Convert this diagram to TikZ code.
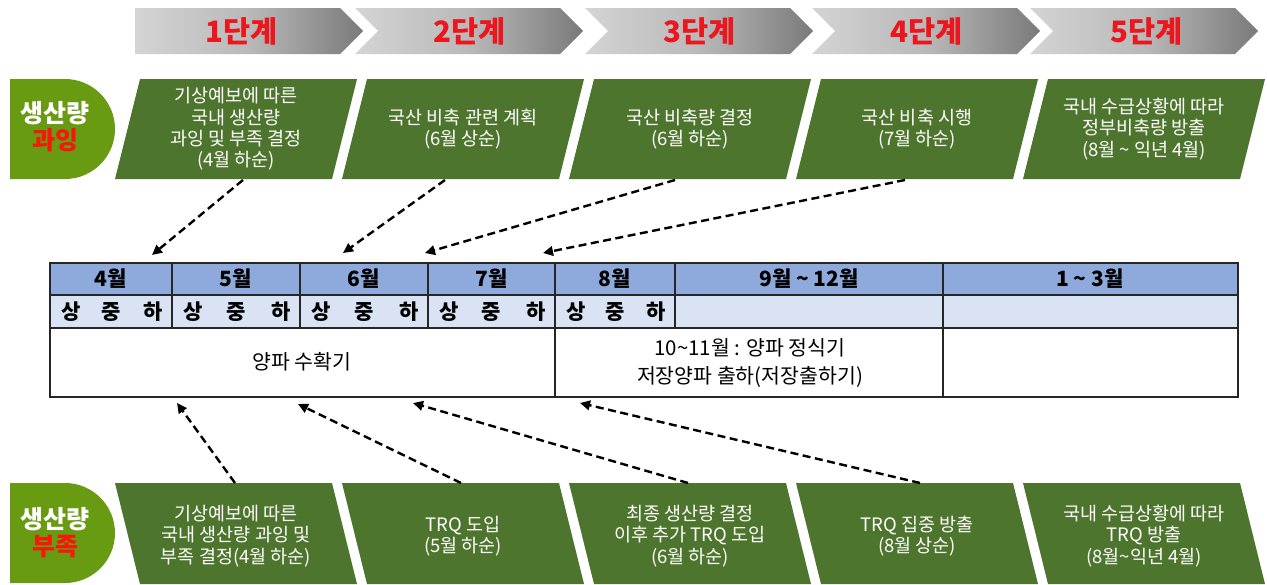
\documentclass[tikz,border=0pt]{standalone}
\usepackage{fontspec}
\setmainfont{Noto Sans CJK KR}
\usetikzlibrary{arrows.meta}
\definecolor{boxgreen}{RGB}{78,117,45}
\definecolor{labgreen}{RGB}{104,154,18}
\definecolor{hdrblue}{RGB}{142,169,219}
\definecolor{subblue}{RGB}{218,227,243}
\definecolor{stepred}{RGB}{235,22,30}
\definecolor{labred}{RGB}{250,20,10}
\definecolor{chevL}{RGB}{212,212,212}
\definecolor{chevM}{RGB}{185,185,185}
\definecolor{chevR}{RGB}{122,122,122}
\begin{document}
\begin{tikzpicture}[x=1pt,y=-1pt,
  boxtext/.style={text=white, align=center, inner sep=0pt, font=\fontsize{18.5}{21.3}\selectfont},
  steptext/.style={text=stepred, inner sep=0pt, font=\bfseries\fontsize{29.5}{32}\selectfont},
  labtext/.style={align=center, inner sep=0pt, font=\bfseries\fontsize{25}{28}\selectfont},
  hdr/.style={inner sep=0pt, font=\bfseries\fontsize{21}{22}\selectfont},
  subtext/.style={inner sep=0pt, font=\bfseries\fontsize{21}{22}\selectfont},
  bodytext/.style={inner sep=0pt, align=center, font=\fontsize{20.5}{28}\selectfont},
  tline/.style={line width=1.2pt, black!85},
  tborder/.style={line width=2pt, black!85},
  dasharrow/.style={line width=2.4pt, dash pattern=on 8pt off 4.5pt, -{Triangle[length=10pt,width=9.5pt]}}
]
\useasboundingbox (0,0) rectangle (1267,584);
\fill[white] (0,0) rectangle (1267,584);

% ---------- chevrons ----------
\shade[left color=chevL, right color=chevR, middle color=chevM]
  (135,8) -- (340,8) -- (363,31) -- (340,54) -- (135,54) -- cycle;
\foreach \x in {355,585,812,1030}{
  \shade[left color=chevL, right color=chevR, middle color=chevM]
    (\x,8) -- (\x+205,8) -- (\x+228,31) -- (\x+205,54) -- (\x,54) -- (\x+23,31) -- cycle;
}
\node[steptext] (s1) at (242,31) {1단계};
\node[steptext] (s2) at (470,31) {2단계};
\node[steptext] (s3) at (700,31) {3단계};
\node[steptext] (s4) at (927,31) {4단계};
\node[steptext] (s5) at (1147,31) {5단계};

% ---------- left labels ----------
\fill[labgreen] (10,79) -- (65,79) arc[start angle=90,end angle=-90,radius=50pt] -- (10,179) -- cycle;
\node[labtext] (labtop) at (55,127) {\textcolor{white}{생산량}\\[-1pt]\textcolor{labred}{과잉}};
\fill[labgreen] (10,483) -- (65,483) arc[start angle=90,end angle=-90,radius=50pt] -- (10,583) -- cycle;
\node[labtext] (labbot) at (55,533) {\textcolor{white}{생산량}\\[-1pt]\textcolor{labred}{부족}};

% ---------- top boxes ----------
\foreach \i in {0,...,4}{
  \fill[boxgreen] (115+227*\i+25,79) -- (115+227*\i+242,79) -- (115+227*\i+217,179) -- (115+227*\i,179) -- cycle;
  \fill[boxgreen] (115+227*\i,483) -- (115+227*\i+217,483) -- (115+227*\i+242,584) -- (115+227*\i+25,584) -- cycle;
}
\node[boxtext] (t1) at (236,129) {기상예보에 따른\\국내 생산량\\과잉 및 부족 결정\\(4월 하순)};
\node[boxtext] (t2) at (463,129) {국산 비축 관련 계획\\(6월 상순)};
\node[boxtext] (t3) at (690,129) {국산 비축량 결정\\(6월 하순)};
\node[boxtext] (t4) at (917,129) {국산 비축 시행\\(7월 하순)};
\node[boxtext] (t5) at (1144,129) {국내 수급상황에 따라\\정부비축량 방출\\(8월 \textasciitilde{} 익년 4월)};

\node[boxtext] (u1) at (236,536) {기상예보에 따른\\국내 생산량 과잉 및\\부족 결정(4월 하순)};
\node[boxtext] (u2) at (463,536) {TRQ 도입\\(5월 하순)};
\node[boxtext] (u3) at (690,536) {최종 생산량 결정\\이후 추가 TRQ 도입\\(6월 하순)};
\node[boxtext] (u4) at (917,536) {TRQ 집중 방출\\(8월 상순)};
\node[boxtext] (u5) at (1144,536) {국내 수급상황에 따라\\TRQ 방출\\(8월\textasciitilde 익년 4월)};

% ---------- table ----------
\fill[hdrblue] (50,263) rectangle (1238,295);
\fill[subblue] (50,295) rectangle (1238,328);
\draw[tline] (50,295) -- (1238,295);
\draw[tline] (50,328) -- (1238,328);
\foreach \x in {172,300,428,675}{ \draw[tline] (\x,263) -- (\x,328); }
\foreach \x in {555,943}{ \draw[tline] (\x,263) -- (\x,397); }
\draw[tborder] (50,263) rectangle (1238,397);

\foreach \L/\R/\m [count=\k] in {50/172/4월,172/300/5월,300/428/6월,428/555/7월,555/675/8월}{
  \node[hdr] (mon\k) at ({(\L+\R)/2},279) {\m};
  \node[subtext] (sang\k) at ({\L+21},312) {상};
  \node[subtext] (jung\k) at ({(\L+\R)/2},312) {중};
  \node[subtext] (ha\k) at ({\R-19},312) {하};
}
\node[hdr] (mon6) at (809,279) {9월 \textasciitilde{} 12월};
\node[hdr] (mon7) at (1090,279) {1 \textasciitilde{} 3월};

\node[bodytext] (harvest) at (302,362) {양파 수확기};
\node[bodytext] (plant) at (750,363) {10\textasciitilde 11월 : 양파 정식기\\저장양파 출하(저장출하기)};

% ---------- arrows ----------
\coordinate (a1s) at (243,180); \coordinate (a1e) at (152,255);
\coordinate (a2s) at (445,180); \coordinate (a2e) at (343,253);
\coordinate (a3s) at (675,180); \coordinate (a3e) at (425,253);
\coordinate (a4s) at (905,180); \coordinate (a4e) at (543,253);
\coordinate (b1s) at (235,483); \coordinate (b1e) at (177,403);
\coordinate (b2s) at (461,483); \coordinate (b2e) at (298,404);
\coordinate (b3s) at (688,483); \coordinate (b3e) at (413,403);
\coordinate (b4s) at (920,483); \coordinate (b4e) at (580,403);
\foreach \n in {a1,a2,a3,a4,b1,b2,b3,b4}{
  \draw[dasharrow] (\n s) -- (\n e);
}
\end{tikzpicture}
\end{document}
